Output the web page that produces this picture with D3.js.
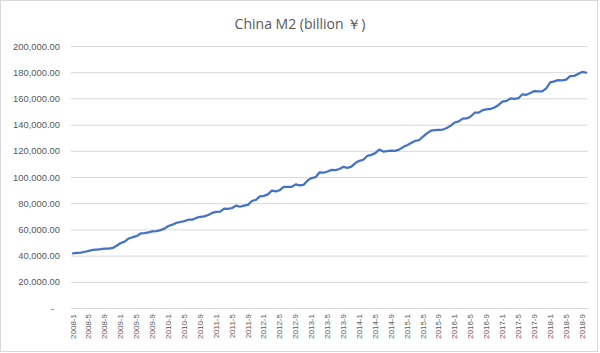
<!DOCTYPE html>
<html>
<head>
<meta charset="utf-8">
<script src="https://cdn.jsdelivr.net/npm/d3@7"></script>
<style>
  body { margin: 0; background: #fff; }
  .tick text { fill: #595959; }
</style>
</head>
<body>
<div id="chart"></div>
<script>
// China M2, billion yuan, monthly 2008-1 .. 2018-10
const years = d3.range(2008, 2019);
const months = years.flatMap(y => d3.range(1, 13).map(m => y + "-" + m)).slice(0, 130);

const m2 = [
  41784.6, 42103.8, 42305.5, 42931.4, 43622.2, 44314.1, 44636.2, 44884.7, 45289.9, 45313.3, 45864.5, 47516.7,
  49613.5, 50670.8, 53062.7, 54048.1, 54826.4, 56891.6, 57158.6, 57669.9, 58540.5, 58664.3, 59460.5, 60622.5,
  62560.9, 63607.2, 64994.7, 65656.1, 66335.1, 67392.2, 67405.1, 68750.7, 69647.2, 69977.7, 71033.9, 72585.2,
  73388.5, 73613.1, 75813.1, 75738.5, 76340.9, 78082.1, 77292.4, 78085.2, 78740.6, 81682.9, 82549.4, 85159.1,
  85589.9, 86717.1, 89556.6, 88960.4, 90004.9, 92499.1, 92537.4, 92489.4, 94368.9, 93640.4, 94071.5, 97414.9,
  99212.9, 99860.1, 103585.8, 103255.2, 104216.9, 105440.4, 105221.2, 106125.6, 107737.9, 107024.2, 107925.7, 110652.5,
  112352.1, 113176.1, 116068.7, 116881.3, 118232.5, 120958.7, 119424.9, 119749.9, 120205.1, 119923.6, 120860.6, 122837.5,
  124271.0, 125908.9, 127533.3, 128077.8, 130868.6, 133337.5, 135321.1, 135694.9, 135982.4, 136248.1, 137395.6, 139227.8,
  141631.9, 142461.9, 144619.8, 144694.7, 146169.5, 149049.2, 149156.0, 151003.9, 151636.1, 151948.0, 153092.3, 155006.7,
  157594.6, 158098.7, 159961.0, 159633.1, 160143.2, 163128.3, 162765.9, 164105.1, 165566.2, 165343.2, 165394.1, 167676.9,
  172181.8, 172999.2, 173985.9, 173768.3, 174358.9, 177017.8, 177195.3, 178671.9, 180166.5, 179700.6
];

const yTicks = [0, 20000, 40000, 60000, 80000, 100000, 120000, 140000, 160000, 180000, 200000];
const xTickLabels = months.filter((d, i) => i % 4 === 0);

const width = 600, height = 353;
const margin = { top: 46, right: 12, bottom: 45, left: 71 };

const svg = d3.select("#chart")
  .append("svg")
  .attr("width", width)
  .attr("height", height);

// outer frame
svg.append("rect")
  .attr("x", 0.5).attr("y", 0.5)
  .attr("width", 597).attr("height", 351)
  .attr("fill", "#fff")
  .attr("stroke", "#d9d9d9");

const x = d3.scaleBand()
  .domain(months)
  .range([margin.left, width - margin.right]);

const y = d3.scaleLinear()
  .domain([0, 200000])
  .range([height - margin.bottom, margin.top]);

// gridlines + y labels
const yAxis = d3.axisLeft(y)
  .tickValues(yTicks)
  .tickSize(-(width - margin.left - margin.right))
  .tickPadding(11)
  .tickFormat(d => d === 0 ? "-" : d3.format(",.2f")(d));

const gy = svg.append("g")
  .attr("transform", "translate(" + margin.left + ",0)")
  .call(yAxis);
gy.select(".domain").remove();
gy.selectAll(".tick line").attr("stroke", "#d9d9d9");
gy.selectAll(".tick text")
  .style("font-family", "'Liberation Sans', Arial, sans-serif")
  .style("font-size", "9.4px");
gy.selectAll(".tick text").filter(d => d === 0).attr("dx", "-6");

// x axis
const xAxis = d3.axisBottom(x)
  .tickValues(xTickLabels)
  .tickSize(0)
  .tickPadding(6);

const gx = svg.append("g")
  .attr("transform", "translate(0," + (height - margin.bottom) + ")")
  .call(xAxis);
gx.select(".domain").attr("stroke", "#d9d9d9");
gx.selectAll(".tick text")
  .style("font-family", "'Liberation Sans Narrow', 'Liberation Sans', Arial, sans-serif")
  .style("font-size", "8px")
  .attr("text-anchor", "end")
  .attr("transform", "rotate(-90)")
  .attr("x", -6)
  .attr("y", 0)
  .attr("dy", "0.32em");

// line
const line = d3.line()
  .x((d, i) => x(months[i]) + x.bandwidth() / 2)
  .y(d => y(d));

svg.append("path")
  .datum(m2)
  .attr("fill", "none")
  .attr("stroke", "#4472c4")
  .attr("stroke-width", 2.25)
  .attr("stroke-linejoin", "round")
  .attr("stroke-linecap", "round")
  .attr("d", line);

// title
svg.append("text")
  .attr("x", 300)
  .attr("y", 29)
  .attr("text-anchor", "middle")
  .style("font-family", "'Open Sans', 'Liberation Sans', sans-serif")
  .style("font-size", "14px")
  .style("fill", "#595959")
  .text("China M2 (billion ￥)");
</script>
</body>
</html>
